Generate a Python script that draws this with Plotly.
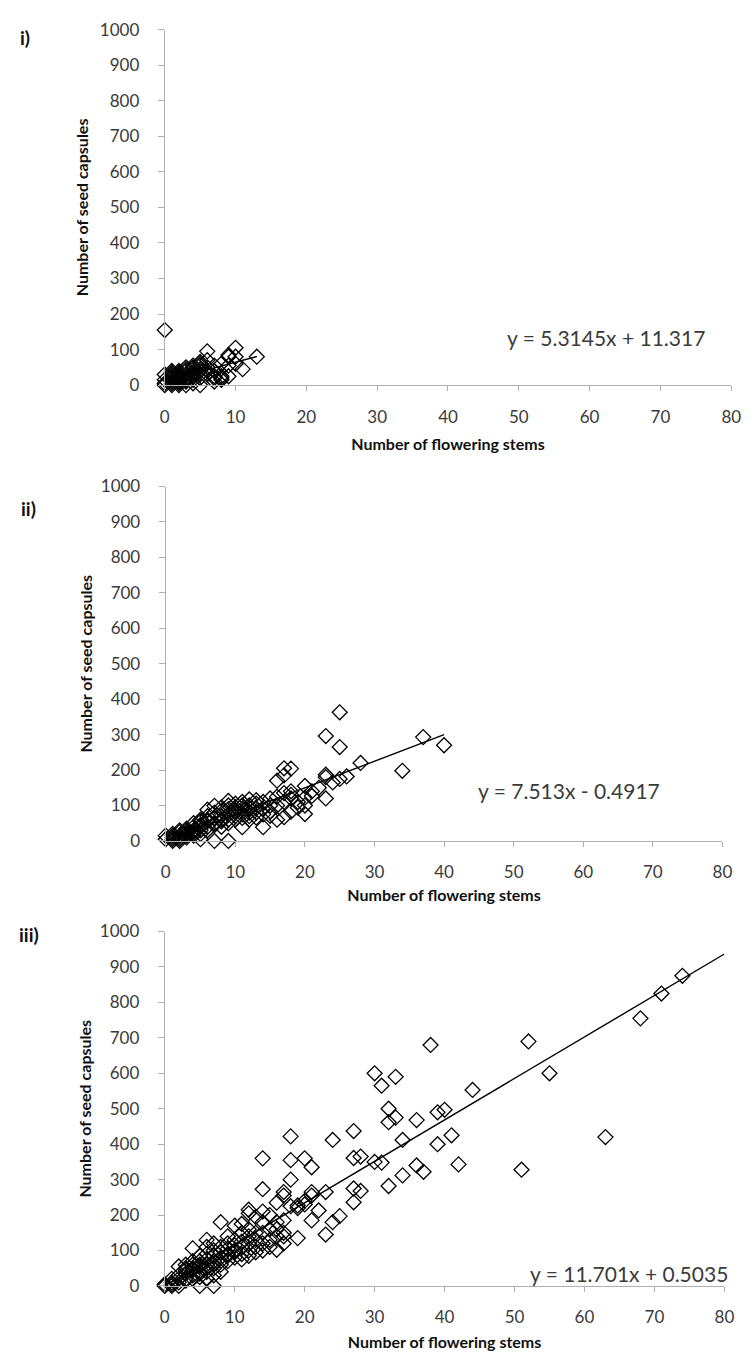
import plotly.graph_objects as go

# ---------------- data ----------------
# Panel i)
x1 = [0,0,0,0,0,1,1,1,1,1,1,1,2,2,2,2,2,2,2,2,3,3,3,3,3,3,3,4,4,4,4,4,4,4,
      5,5,5,5,5,5,5,6,6,6,6,7,7,7,7,8,8,8,9,9,9,9,10,10,10,11,13,1,2,3,4,5,6,2,3,1,7,8]
y1 = [155,30,15,5,0,0,5,10,20,30,25,15,0,5,10,15,25,35,20,30,0,10,20,30,40,45,15,5,15,30,35,45,50,25,
      0,20,40,55,60,65,45,95,70,50,30,10,20,40,55,15,25,60,25,55,80,85,105,60,80,45,80,35,40,50,55,30,40,8,12,40,25,20]

# Panel ii)
x2 = [0,0,
      1,1,1,1,1,
      2,2,2,2,2,2,
      3,3,3,3,3,3,
      4,4,4,4,4,4,
      5,5,5,5,5,5,5,
      6,6,6,6,6,6,
      7,7,7,7,7,7,
      8,8,8,8,8,8,
      9,9,9,9,9,9,9,
      10,10,10,10,10,10,
      11,11,11,11,11,11,
      12,12,12,12,12,12,
      13,13,13,13,13,
      14,14,14,14,
      15,15,15,15,
      16,16,16,16,
      17,17,17,17,17,
      18,18,18,18,18,
      19,19,
      20,20,20,20,
      21,21,22,
      23,23,23,23,24,
      25,25,25,26,28,34,37,40]
y2 = [15,5,
      0,10,20,5,15,
      5,15,25,10,30,0,
      10,20,30,25,15,35,
      20,30,40,25,50,15,
      5,30,45,55,40,60,20,
      40,55,70,88,30,60,
      0,50,65,80,99,45,
      55,70,85,95,60,40,
      0,60,75,90,113,100,50,
      70,85,95,105,60,80,
      39,75,90,100,110,65,
      80,93,117,100,70,60,
      66,92,105,115,80,
      39,90,110,75,
      71,83,120,100,
      100,125,170,60,
      67,135,185,205,110,
      83,130,140,204,120,
      94,110,
      76,100,122,155,
      127,140,150,
      120,187,296,180,165,
      265,363,175,182,220,198,293,270]

# Panel iii)
x3 = [0,0,
      1,1,1,1,
      2,2,2,2,2,
      3,3,3,3,3,3,
      4,4,4,4,4,4,4,
      5,5,5,5,5,5,5,5,
      6,6,6,6,6,6,6,6,
      7,7,7,7,7,7,7,7,
      8,8,8,8,8,8,8,
      9,9,9,9,9,9,
      10,10,10,10,10,10,
      11,11,11,11,11,11,
      12,12,12,12,12,12,12,
      13,13,13,13,13,
      14,14,14,14,14,14,14,
      15,15,15,15,
      16,16,16,16,16,
      17,17,17,17,17,17,
      18,18,18,18,19,19,19,20,20,20,21,21,21,21,22,23,23,24,24,25,
      27,27,27,27,28,28,30,30,31,31,32,32,32,33,33,34,34,36,36,37,
      38,39,39,40,41,42,44,51,52,55,63,68,71,74]
y3 = [5,0,
      0,5,10,20,
      10,20,55,30,0,
      20,35,50,60,15,45,
      30,45,60,106,20,70,50,
      0,35,55,70,85,40,60,25,
      40,60,75,90,130,110,50,20,
      0,50,70,85,100,120,60,30,
      180,60,80,95,110,70,40,
      70,90,105,120,140,85,
      80,100,115,130,170,95,
      90,110,125,150,175,75,
      100,120,140,205,215,160,85,
      110,130,150,195,95,
      273,360,120,150,180,210,100,
      130,160,200,110,
      102,140,180,235,160,
      150,185,255,265,120,140,
      422,355,300,225,227,135,220,360,240,230,335,265,185,255,213,265,145,412,180,197,
      437,361,275,236,365,268,600,350,565,348,500,462,282,590,475,412,312,468,340,322,
      680,490,400,497,425,343,553,328,690,600,420,755,825,875]

# trend lines (Excel linear fits shown on the chart)
fits = [(5.3145, 11.317, 0, 13), (7.513, -0.4917, 0, 40), (11.701, 0.5035, 0, 80)]
equations = ["y = 5.3145x + 11.317", "y = 7.513x - 0.4917", "y = 11.701x + 0.5035"]
panel_labels = ["i)", "ii)", "iii)"]
x_ticks = [0, 10, 20, 30, 40, 50, 60, 70, 80]
y_ticks = [0, 100, 200, 300, 400, 500, 600, 700, 800, 900, 1000]

# ---------------- layout geometry (pixels) ----------------
W, H = 753, 1357
panels_px = [  # (x0, x1, ytop, ybottom)
    (163, 741, 19, 380),
    (164, 732, 483, 843),
    (163, 734, 935, 1295),
]
xtitle_standoff = [13, 8, 10]
ytitle_standoff = [7, 4, 4]
eq_pos = [(613, 332, "center"), (575, 792, "center"), (740, 1282, "right")]
lab_pos = [(20, 27), (24, 505), (24, 938)]

FONT = "Lato, 'Open Sans', sans-serif"
AX = "#b0b0b0"
TXT = "#3a3a3a"

fig = go.Figure()
series = [(x1, y1), (x2, y2), (x3, y3)]
for i, (xs, ys) in enumerate(series):
    xa = "x" if i == 0 else f"x{i+1}"
    ya = "y" if i == 0 else f"y{i+1}"
    fig.add_trace(go.Scatter(
        x=xs, y=ys, mode="markers", xaxis=xa, yaxis=ya, showlegend=False,
        cliponaxis=False,
        marker=dict(symbol="diamond-open", size=11.5, color="black",
                    line=dict(color="black", width=1.3)),
        hoverinfo="x+y"))
    a, b, lo, hi = fits[i]
    fig.add_trace(go.Scatter(
        x=[lo, hi], y=[a * lo + b, a * hi + b], mode="lines",
        xaxis=xa, yaxis=ya, showlegend=False, cliponaxis=False,
        line=dict(color="black", width=1.4), hoverinfo="skip"))

layout = dict(
    width=W, height=H, margin=dict(l=0, r=0, t=0, b=0),
    paper_bgcolor="white", plot_bgcolor="white",
    font=dict(family=FONT, color=TXT, size=17),
)
for i, (px0, px1, pyt, pyb) in enumerate(panels_px):
    sx = "" if i == 0 else str(i + 1)
    layout[f"xaxis{sx}"] = dict(
        domain=[px0 / W, px1 / W], range=[0, 80], anchor=f"y{sx}",
        tickvals=x_ticks, ticks="outside", ticklen=5, tickcolor=AX, tickwidth=1,
        showline=True, linecolor=AX, linewidth=1.2, showgrid=False, zeroline=False,
        ticklabelstandoff=11,
        tickfont=dict(family=FONT, size=17, color=TXT),
        title=dict(text="<b>Number of flowering stems</b>", standoff=xtitle_standoff[i],
                   font=dict(family=FONT, size=16, color="#111")),
    )
    layout[f"yaxis{sx}"] = dict(
        domain=[1 - pyb / H, 1 - pyt / H], range=[0, 1000], anchor=f"x{sx}",
        tickvals=y_ticks, ticks="outside", ticklen=6, tickcolor=AX, tickwidth=1,
        showline=True, linecolor=AX, linewidth=1.2, showgrid=False, zeroline=False,
        ticklabelstandoff=15,
        tickfont=dict(family=FONT, size=17, color=TXT),
        title=dict(text="<b>Number of seed capsules</b>", standoff=ytitle_standoff[i],
                   font=dict(family=FONT, size=16, color="#111")),
    )
fig.update_layout(**layout)

for i in range(3):
    ex, ey, al = eq_pos[i]
    fig.add_annotation(text=equations[i], xref="paper", yref="paper",
                       x=ex / W, y=1 - ey / H, xanchor=al, yanchor="middle",
                       showarrow=False, font=dict(family=FONT, size=21, color=TXT))
    lx, ly = lab_pos[i]
    fig.add_annotation(text=f"<b>{panel_labels[i]}</b>", xref="paper", yref="paper",
                       x=lx / W, y=1 - ly / H, xanchor="center", yanchor="middle",
                       showarrow=False, font=dict(family=FONT, size=19, color="#111"))

fig.write_html("out.html", config={"displayModeBar": False},
               post_script="document.body.style.margin='0';"
                           "document.body.style.overflow='hidden';")
